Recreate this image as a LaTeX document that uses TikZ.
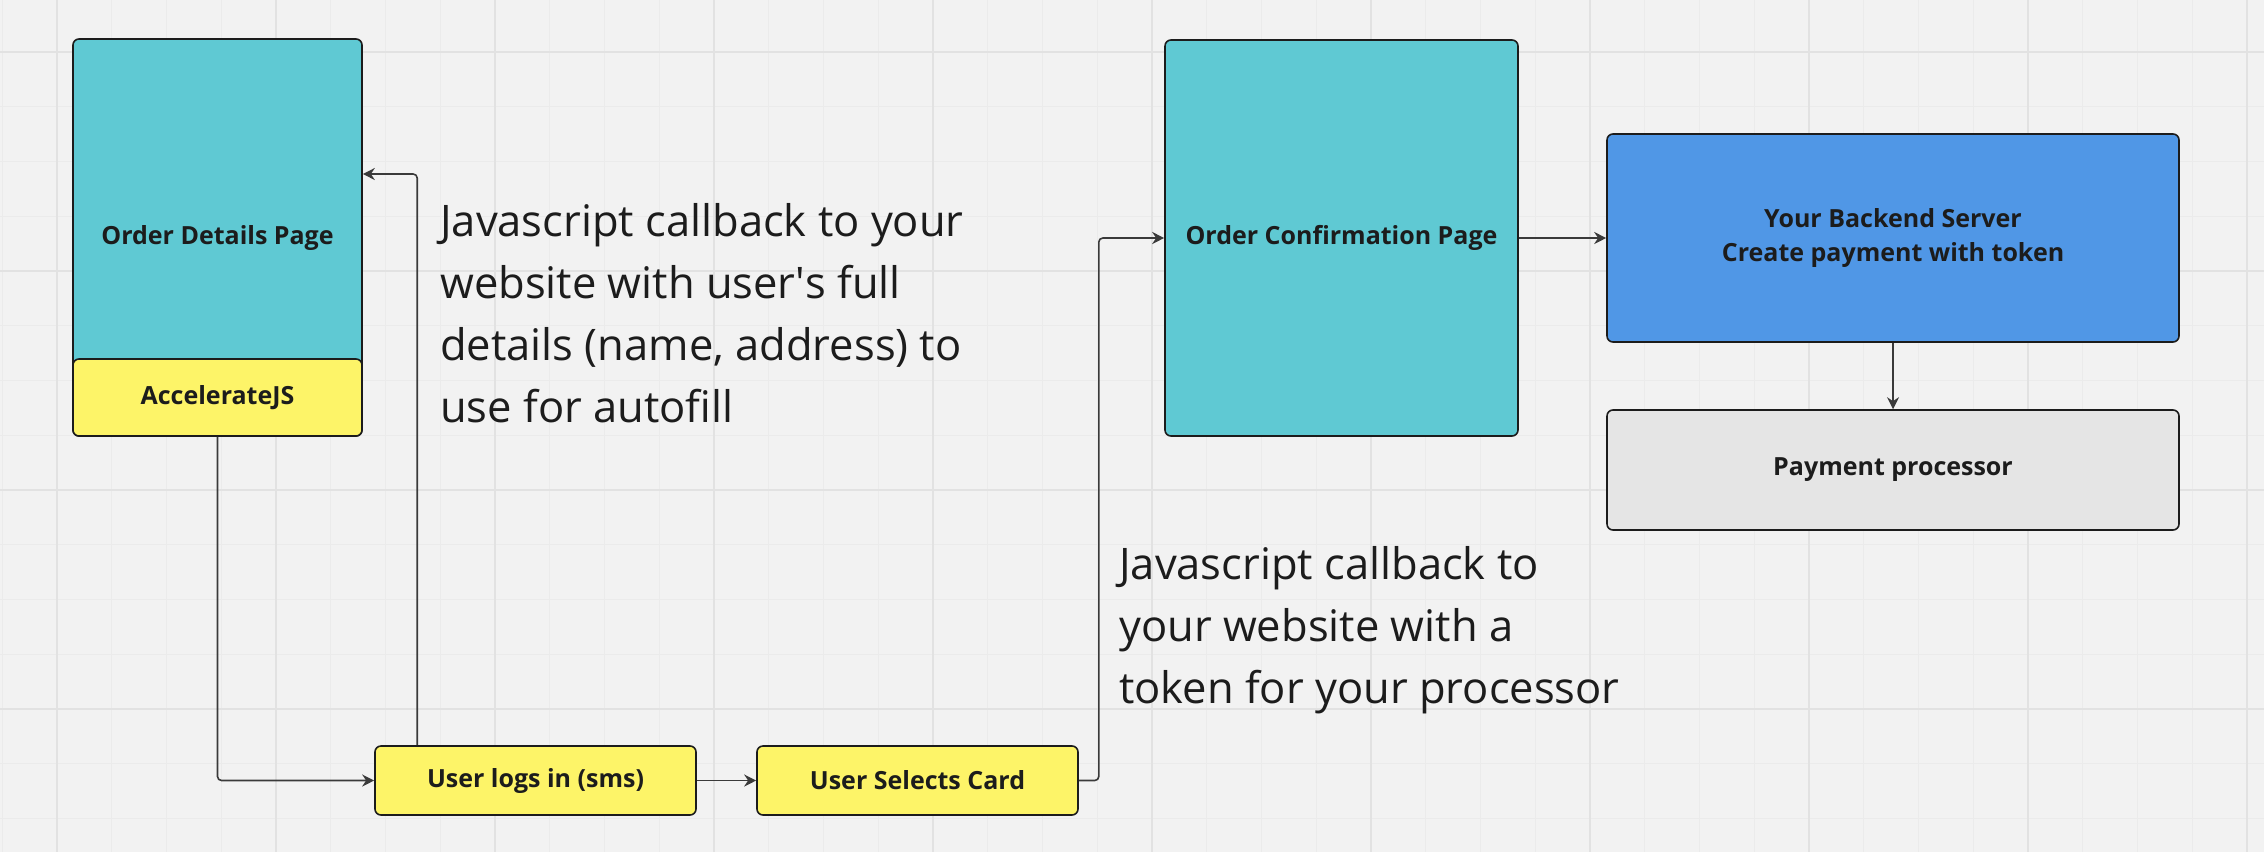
\documentclass[tikz,border=0pt]{standalone}
\usepackage{fontspec}
\setmainfont{Open Sans}
\usepackage{tikz}
\usetikzlibrary{arrows.meta,shapes}
\definecolor{canvas}{HTML}{F2F2F2}
\definecolor{gridmin}{HTML}{EBEBEB}
\definecolor{gridmaj}{HTML}{E2E2E2}
\definecolor{pagecyan}{HTML}{5FC9D3}
\definecolor{jsyellow}{HTML}{FDF468}
\definecolor{serverblue}{HTML}{5097E6}
\definecolor{procgray}{HTML}{E5E5E5}
\definecolor{ink}{HTML}{1C1C1C}
\definecolor{wire}{HTML}{3A3A3A}
\tikzstyle{box}=[draw=ink,line width=1.6pt,rounded corners=6pt,text=ink,inner sep=0pt,align=center,font=\fontsize{25}{34}\selectfont\bfseries]
\tikzstyle{edge} = [draw=wire,line width=1.6pt,rounded corners=4pt,-{Stealth[length=12pt,width=12pt]}]
\tikzstyle{note}=[anchor=north west,inner sep=0pt,align=left,text=ink,font=\fontsize{43.5}{62}\selectfont]
\tikzstyle{gridminor}=[draw=gridmin,line width=1.2pt]
\tikzstyle{gridmajor}=[draw=gridmaj,line width=2pt]

\begin{document}
\begin{tikzpicture}[x=1pt,y=-1pt]
    % Canvas and its grid
    \useasboundingbox (0,0) rectangle (2264,852);
    \fill[canvas] (0,0) rectangle (2264,852);
    \foreach \i in {-1,...,40}
        \path[gridminor] ({57+\i*54.75},0) -- ++(0,852);
    \foreach \i in {-1,...,14}
        \path[gridminor] (0,{52+\i*54.75}) -- ++(2264,0);
    \foreach \i in {0,4,...,40}
        \path[gridmajor] ({57+\i*54.75},0) -- ++(0,852);
    \foreach \i in {0,4,8,12}
        \path[gridmajor] (0,{52+\i*54.75}) -- ++(2264,0);
    % First we draw the boxes
    \foreach \pos/\w/\h/\col/\name/\txt in {{(217.5,237.5)/289/397/pagecyan/odp/Order Details Page},
        {(217.5,397.5)/289/77/jsyellow/acc/AccelerateJS},
        {(535.5,780.5)/321/69/jsyellow/login/User logs in (sms)},
        {(917.5,780.5)/321/69/jsyellow/card/User Selects Card},
        {(1341.5,238)/353/396/pagecyan/ocp/Order Confirmation Page},
        {(1893,238)/572/208/serverblue/backend/{Your Backend Server\\Create payment with token}},
        {(1893,470)/572/120/procgray/proc/Payment processor}}
       \node[box,fill=\col,minimum width=\w pt,minimum height=\h pt] (\name) at \pos {\txt};
    % Connect boxes with edges
    \path[edge] (acc.south) |- (login.west);
    \path[edge] ([xshift=43pt]login.north west) |- ([yshift=63.5pt]odp.east);
    \path[edge] (card.east) -- ++(20,0) |- (ocp.west);
    \foreach \source/ \dest in {login/card, ocp/backend}
        \path[edge] (\source.east) -- (\dest.west) ;
    \path[edge] (backend.south) -- (proc.north);
    % Free text notes
    \node[note] (autofill) at (440,203) {Javascript callback to your\\website with user\textquotesingle s full\\details (name, address) to\\use for autofill};
    \node[note] (tokennote) at (1119,546) {Javascript callback to\\your website with a\\token for your processor};
\end{tikzpicture}
\end{document}
